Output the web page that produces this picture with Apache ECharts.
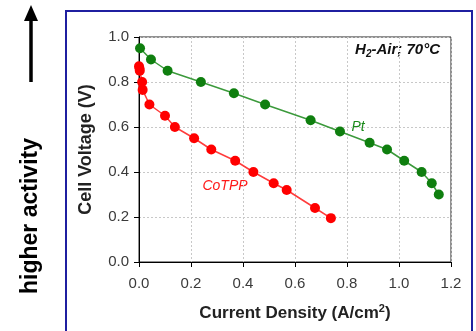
<!DOCTYPE html>
<html><head><meta charset="utf-8">
<script src="https://cdn.jsdelivr.net/npm/echarts@6/dist/echarts.min.js"></script>
<style>html,body{margin:0;padding:0;background:#fff}#c{width:476px;height:331px}</style>
</head><body><div id="c"></div>
<script>
const ptX = [0.004, 0.046, 0.11, 0.238, 0.365, 0.485, 0.66, 0.773, 0.887, 0.954, 1.02, 1.087, 1.126, 1.153];
const ptY = [0.95, 0.90, 0.85, 0.80, 0.75, 0.70, 0.63, 0.58, 0.53, 0.50, 0.45, 0.40, 0.35, 0.30];
const coX = [0.0, 0.002, 0.003, 0.012, 0.014, 0.04, 0.10, 0.138, 0.212, 0.278, 0.37, 0.44, 0.518, 0.568, 0.677, 0.738];
const coY = [0.87, 0.86, 0.85, 0.80, 0.765, 0.70, 0.65, 0.60, 0.55, 0.50, 0.45, 0.40, 0.35, 0.32, 0.24, 0.195];
const xTicks = ['0.0','0.2','0.4','0.6','0.8','1.0','1.2'];
const yTicks = ['0.0','0.2','0.4','0.6','0.8','1.0'];

const chart = echarts.init(document.getElementById('c'));
const font = 'Liberation Sans, Arial, sans-serif';
chart.setOption({
  animation: false,
  grid: {left: 139, top: 37, width: 312, height: 225, show: true, borderColor: '#222', borderWidth: 1, backgroundColor: 'transparent'},
  xAxis: {
    type: 'value', min: 0, max: 1.2, interval: 0.2,
    name: 'Current Density (A/cm{s|2})', nameLocation: 'middle', nameGap: 41,
    nameTextStyle: {fontFamily: font, fontWeight: 'bold', fontSize: 17, color: '#222',
      rich: {s: {fontFamily: font, fontWeight: 'bold', fontSize: 11, verticalAlign: 'top', padding: [0,0,9,0], color: '#222'}}},
    axisLine: {lineStyle: {color: '#000', width: 1}},
    axisTick: {show: true, inside: false, length: 5, lineStyle: {color: '#000'}},
    axisLabel: {fontFamily: font, fontSize: 15, color: '#3a3a3a', margin: 14, formatter: (v) => xTicks[Math.round(v / 0.2)]},
    splitLine: {show: true, lineStyle: {color: '#c8c8c8', type: [2, 2]}}
  },
  yAxis: {
    type: 'value', min: 0, max: 1.0, interval: 0.2,
    name: 'Cell Voltage (V)', nameLocation: 'middle', nameGap: 44, nameRotate: 90,
    nameTextStyle: {fontFamily: font, fontWeight: 'bold', fontSize: 18, color: '#222'},
    axisLine: {show: true, lineStyle: {color: '#000', width: 1}},
    axisTick: {show: true, inside: false, length: 5, lineStyle: {color: '#000'}},
    axisLabel: {fontFamily: font, fontSize: 15, color: '#3a3a3a', margin: 10, formatter: (v) => yTicks[Math.round(v / 0.2)]},
    splitLine: {show: true, lineStyle: {color: '#c8c8c8', type: [2, 2]}}
  },
  series: [
    {type: 'line', name: 'Pt', data: ptX.map((x, i) => [x, ptY[i]]), symbol: 'circle', symbolSize: 10,
     itemStyle: {color: '#0f7f0f'}, lineStyle: {color: '#3c9a3c', width: 1.5}},
    {type: 'line', name: 'CoTPP', data: coX.map((x, i) => [x, coY[i]]), symbol: 'circle', symbolSize: 10,
     itemStyle: {color: '#ff0000'}, lineStyle: {color: '#ff3c3c', width: 1.5}}
  ],
  graphic: [
    {type: 'rect', shape: {x: 66, y: 11, width: 406, height: 340}, style: {fill: 'none', stroke: '#1f1fa0', lineWidth: 2}},
    {type: 'line', shape: {x1: 31, y1: 82, x2: 31, y2: 18}, style: {stroke: '#000', lineWidth: 3.5}},
    {type: 'polygon', shape: {points: [[31, 5], [24, 21], [38, 21]]}, style: {fill: '#000'}},
    {type: 'text', x: 31, y: 216, rotation: Math.PI / 2,
     style: {text: 'higher activity', fontFamily: font, fontWeight: 'bold', fontSize: 23, fill: '#000', align: 'center', verticalAlign: 'middle'}},
    {type: 'text', x: 358, y: 127,
     style: {text: 'Pt', fontFamily: font, fontStyle: 'italic', fontSize: 14, fill: '#1a8a1a', align: 'center', verticalAlign: 'middle'}},
    {type: 'text', x: 225, y: 186,
     style: {text: 'CoTPP', fontFamily: font, fontStyle: 'italic', fontSize: 14, fill: '#ff1a1a', align: 'center', verticalAlign: 'middle'}},
    {type: 'text', x: 440, y: 50,
     style: {text: '{a|H}{s|2}{a|-Air; 70°C}', align: 'right', verticalAlign: 'middle',
      rich: {a: {fontFamily: font, fontStyle: 'italic', fontWeight: 'bold', fontSize: 15, fill: '#111'},
             s: {fontFamily: font, fontStyle: 'italic', fontWeight: 'bold', fontSize: 10, fill: '#111', padding: [9, 0, 0, 0]}}}}
  ]
});
</script></body></html>
